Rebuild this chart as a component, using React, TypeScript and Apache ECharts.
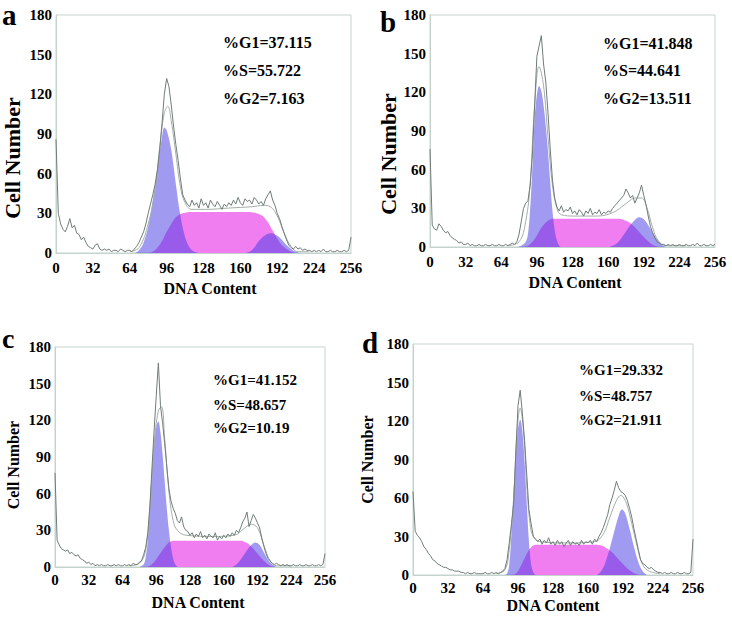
import React, { useEffect, useRef } from "react";
import * as echarts from "echarts";

// ---------- data ----------
const panelLetters = ["a", "b", "c", "d"];
const xTicks = [0, 32, 64, 96, 128, 160, 192, 224, 256];
const yTicks = [0, 30, 60, 90, 120, 150, 180];

const statsA = ["%G1=37.115", "%S=55.722", "%G2=7.163"];
const statsB = ["%G1=41.848", "%S=44.641", "%G2=13.511"];
const statsC = ["%G1=41.152", "%S=48.657", "%G2=10.19"];
const statsD = ["%G1=29.332", "%S=48.757", "%G2=21.911"];

// DNA channels of the raw histogram (every 2nd channel, 0..256)
const channels = Array.from({ length: 129 }, (_, i) => i * 2);

const rawA = [
  86, 30, 22, 18, 16, 20, 26, 19, 21, 15, 14, 10, 12, 8, 5, 4,
  3, 6, 7, 3, 2, 3, 2, 3, 1, 2, 2, 1, 3, 2, 1, 2,
  2, 1, 3, 5, 8, 12, 16, 22, 30, 37, 44, 52, 63, 78, 98, 120,
  132, 126, 112, 96, 82, 70, 56, 44, 40, 37, 35, 40, 36, 38, 34, 41,
  36, 38, 34, 40, 37, 35, 39, 36, 33, 37, 35, 38, 36, 40, 37, 42,
  38, 36, 41, 39, 40, 37, 42, 40, 37, 39, 36, 41, 44, 47, 40, 36,
  30, 26, 20, 15, 10, 6, 4, 3, 5, 3, 4, 2, 3, 2, 2, 1,
  2, 1, 2, 1, 3, 1, 1, 2, 1, 1, 2, 1, 1, 2, 1, 2, 12,
];
const rawB = [
  76, 17, 14, 13, 18, 16, 13, 11, 12, 9, 7, 6, 5, 3, 4, 2,
  2, 3, 1, 2, 1, 1, 2, 1, 1, 2, 1, 1, 2, 1, 1, 2,
  1, 1, 2, 1, 2, 3, 2, 4, 10, 20, 30, 34, 36, 48, 72, 110,
  148, 156, 164, 142, 128, 104, 76, 52, 38, 31, 28, 32, 27, 29, 28, 31,
  26, 28, 25, 29, 27, 24, 28, 26, 30, 25, 27, 26, 29, 25, 27, 26,
  28, 27, 30, 32, 34, 36, 38, 40, 45, 42, 38, 40, 34, 38, 42, 48,
  40, 33, 24, 16, 11, 7, 4, 3, 2, 2, 1, 2, 1, 2, 1, 1,
  2, 1, 1, 2, 1, 1, 2, 1, 3, 1, 1, 2, 1, 1, 2, 1, 2,
];
const rawC = [
  77, 22, 18, 15, 14, 13, 14, 11, 12, 10, 9, 10, 7, 6, 5, 3,
  4, 2, 3, 1, 2, 1, 2, 1, 1, 2, 1, 1, 2, 1, 2, 1,
  1, 2, 1, 2, 1, 3, 2, 2, 4, 5, 10, 16, 28, 50, 82, 112,
  140, 167, 132, 118, 101, 82, 64, 54, 48, 44, 38, 36, 41, 33, 30, 29,
  26, 28, 24, 27, 25, 29, 24, 26, 23, 27, 25, 24, 28, 22, 25, 23,
  26, 24, 27, 25, 28, 26, 30, 28, 32, 37, 40, 45, 33, 38, 43, 40,
  36, 32, 24, 17, 11, 7, 5, 3, 2, 3, 2, 1, 2, 1, 2, 1,
  1, 2, 1, 1, 2, 1, 1, 2, 1, 1, 2, 1, 1, 2, 1, 2, 11,
];
const rawD = [
  65, 34, 31, 29, 26, 22, 20, 17, 15, 12, 11, 9, 8, 7, 6, 6,
  5, 4, 4, 3, 3, 3, 2, 2, 1, 2, 1, 1, 2, 1, 1, 1,
  1, 2, 1, 1, 2, 1, 2, 1, 2, 3, 5, 12, 25, 40, 55, 95,
  132, 144, 126, 105, 78, 51, 40, 30, 28, 26, 28, 24, 27, 25, 29, 24,
  26, 23, 27, 24, 26, 22, 25, 27, 23, 26, 24, 25, 23, 27, 24, 26,
  25, 27, 24, 28, 26, 30, 33, 37, 42, 47, 55, 60, 66, 73, 68, 65,
  64, 62, 58, 52, 45, 36, 28, 20, 12, 9, 8, 6, 5, 6, 4, 3,
  2, 2, 1, 2, 1, 1, 2, 1, 1, 2, 1, 1, 2, 1, 1, 2, 28,
];

// fitted model components [DNA channel, cell number]
const g1A = [[64, 0], [68, 0], [72, 2], [76, 8], [80, 20], [84, 40], [88, 64], [92, 88], [94, 95], [96, 93], [100, 78], [104, 52], [108, 28], [112, 12], [116, 4], [120, 1], [124, 0]];
const sA = [[80, 0], [84, 1], [88, 4], [92, 9], [96, 16], [100, 22], [104, 27], [108, 29.5], [112, 30.5], [116, 31], [168, 31], [172, 30.5], [176, 29.5], [180, 27.5], [184, 23], [188, 17], [192, 11], [196, 6], [200, 3], [204, 1], [208, 0]];
const g2A = [[164, 0], [168, 1], [172, 4], [176, 9], [180, 12.5], [184, 14.5], [187, 15], [192, 13], [196, 10], [200, 6], [204, 3], [208, 1], [212, 0]];
const fitA = [[64, 1], [72, 4], [80, 22], [86, 48], [90, 80], [94, 106], [97, 111], [100, 100], [104, 75], [108, 50], [112, 38], [118, 33], [130, 33], [150, 34], [170, 35], [180, 36], [186, 35], [192, 28], [198, 15], [204, 5], [210, 1], [220, 1]];

const g1B = [[78, 0], [82, 1], [86, 4], [88, 10], [90, 30], [92, 62], [94, 100], [96, 118], [98, 125], [100, 121], [102, 110], [104, 94], [106, 74], [108, 50], [110, 28], [112, 13], [114, 5], [116, 1], [118, 0]];
const sB = [[84, 0], [88, 1], [92, 4], [96, 9], [100, 15], [104, 19], [108, 21.5], [112, 22], [170, 22], [174, 21], [178, 19.5], [182, 17], [186, 13.5], [190, 9.5], [194, 6], [198, 3], [202, 1], [206, 0]];
const g2B = [[160, 0], [164, 1], [168, 3], [172, 7], [176, 12], [180, 17], [184, 21], [188, 23], [192, 21.5], [196, 17], [200, 11], [204, 6], [208, 2], [212, 0]];
const fitB = [[70, 1], [80, 4], [86, 20], [90, 50], [94, 110], [98, 140], [102, 125], [106, 85], [110, 48], [114, 30], [118, 25], [130, 24], [150, 24], [165, 27], [175, 33], [185, 38], [190, 38], [195, 30], [200, 15], [205, 5], [212, 1], [230, 1]];

const g1C = [[80, 0], [84, 2], [86, 8], [88, 22], [90, 52], [92, 80], [94, 102], [96, 115], [98, 119], [100, 110], [102, 92], [104, 70], [106, 48], [108, 30], [110, 16], [112, 7], [114, 2], [116, 0]];
const sC = [[86, 0], [90, 1], [94, 4], [98, 9], [102, 14], [106, 18.5], [110, 21], [114, 21.5], [176, 21.5], [180, 20.5], [184, 18.5], [188, 15], [192, 11], [196, 7], [200, 3.5], [204, 1], [208, 0]];
const g2C = [[168, 0], [172, 2], [176, 6], [180, 11], [184, 16], [188, 19.5], [190, 20], [194, 18], [198, 12], [202, 6], [206, 2], [210, 0]];
const fitC = [[70, 1], [80, 3], [86, 14], [90, 50], [94, 100], [98, 128], [101, 131], [104, 105], [108, 62], [112, 38], [116, 30], [124, 26], [150, 25], [170, 26], [180, 32], [186, 35], [192, 32], [198, 18], [204, 5], [210, 1], [224, 1]];

const g1D = [[84, 0], [86, 1], [88, 8], [90, 32], [92, 66], [94, 95], [96, 114], [98, 121], [100, 112], [102, 88], [104, 56], [106, 26], [108, 8], [110, 2], [112, 0]];
const sD = [[90, 0], [94, 1], [98, 6], [102, 13], [106, 19.5], [110, 23], [114, 23.5], [168, 23.5], [172, 23], [176, 21.5], [180, 19], [184, 16], [188, 12], [192, 8.5], [196, 5], [200, 2.5], [204, 0.8], [208, 0]];
const g2D = [[168, 0], [172, 3], [176, 10], [180, 21], [184, 34], [188, 46], [191, 51], [194, 48], [198, 36], [202, 22], [206, 10], [210, 3], [214, 0]];
const fitD = [[76, 1], [84, 4], [88, 20], [92, 60], [95, 110], [98, 130], [101, 112], [104, 70], [107, 40], [110, 30], [116, 26], [140, 25], [166, 26], [174, 32], [180, 45], [186, 58], [190, 62], [195, 56], [200, 40], [205, 22], [210, 8], [216, 3], [226, 1]];

// ---------- layout ----------
const FONT = "'Liberation Serif', 'Times New Roman', serif";
const FRAME = "#c5d3cd";
const G_COLOR = "rgba(66,56,226,0.5)";
const S_COLOR = "#f07ef0";

const panels = [
  { raw: rawA, g1: g1A, s: sA, g2: g2A, fit: fitA, stats: statsA,
    grid: { left: 54, top: 15, width: 297, height: 238 },
    xNameGap: 27, xNamePad: [0, 0, 0, 13], xLabelMargin: 7,
    yNameGap: 33, yNameSize: 22, yNamePad: [0, 48, 0, 0],
    letter: { x: 2, y: 15, size: 29 }, statX: 223, statY: [42, 70, 98], statSize: 16 },
  { raw: rawB, g1: g1B, s: sB, g2: g2B, fit: fitB, stats: statsB,
    grid: { left: 430, top: 15, width: 285, height: 232 },
    xNameGap: 27, xNamePad: [0, 0, 0, 5], xLabelMargin: 7,
    yNameGap: 27, yNameSize: 22, yNamePad: [0, 46, 0, 0],
    letter: { x: 380, y: 22, size: 29 }, statX: 603, statY: [43, 70, 98], statSize: 16 },
  { raw: rawC, g1: g1C, s: sC, g2: g2C, fit: fitC, stats: statsC,
    grid: { left: 55, top: 347, width: 270, height: 220 },
    xNameGap: 27, xNamePad: [0, 0, 0, 16], xLabelMargin: 5,
    yNameGap: 34, yNameSize: 16, yNamePad: [0, 16, 0, 0],
    letter: { x: 2, y: 338, size: 28 }, statX: 213, statY: [380, 405, 428], statSize: 15 },
  { raw: rawD, g1: g1D, s: sD, g2: g2D, fit: fitD, stats: statsD,
    grid: { left: 413, top: 344, width: 280, height: 231 },
    xNameGap: 22, xNamePad: [0, 0, 0, 0], xLabelMargin: 5,
    yNameGap: 38, yNameSize: 16, yNamePad: [0, 0, 0, 0],
    letter: { x: 362, y: 343, size: 29 }, statX: 579, statY: [370, 396, 420], statSize: 15 },
];

const labelStyle = { fontFamily: FONT, fontWeight: "bold" as const, fontSize: 15, color: "#000" };

export default function App() {
  const ref = useRef<HTMLDivElement>(null);

  useEffect(() => {
    if (!ref.current) return;
    const chart = echarts.init(ref.current, undefined, { renderer: "svg" });

    const grids: any[] = [];
    const xAxes: any[] = [];
    const yAxes: any[] = [];
    const series: any[] = [];
    const graphics: any[] = [];

    panels.forEach((p, i) => {
      grids.push({ ...p.grid, show: true, borderColor: FRAME, borderWidth: 1, backgroundColor: "#fff" });
      xAxes.push({
        type: "value", gridIndex: i, min: xTicks[0], max: xTicks[xTicks.length - 1], interval: 32,
        name: "DNA Content", nameLocation: "middle", nameGap: p.xNameGap,
        nameTextStyle: { fontFamily: FONT, fontWeight: "bold", fontSize: 16, color: "#000", padding: p.xNamePad },
        axisLine: { show: true, lineStyle: { color: FRAME } },
        axisTick: { show: false },
        splitLine: { show: false },
        axisLabel: { ...labelStyle, margin: p.xLabelMargin },
      });
      yAxes.push({
        type: "value", gridIndex: i, min: yTicks[0], max: yTicks[yTicks.length - 1], interval: 30,
        name: "Cell Number", nameLocation: "middle", nameGap: p.yNameGap,
        nameTextStyle: { fontFamily: FONT, fontWeight: "bold", fontSize: p.yNameSize, color: "#000", padding: p.yNamePad },
        axisLine: { show: true, lineStyle: { color: FRAME } },
        axisTick: { show: false },
        splitLine: { show: false },
        axisLabel: { ...labelStyle, margin: 4 },
      });
      const common = { xAxisIndex: i, yAxisIndex: i, symbol: "none", silent: true };
      series.push({ ...common, type: "line", name: "S", data: p.s, smooth: 0.35,
        lineStyle: { opacity: 0 }, areaStyle: { color: S_COLOR, opacity: 1 }, z: 2 });
      series.push({ ...common, type: "line", name: "G1", data: p.g1, smooth: 0.35,
        lineStyle: { opacity: 0 }, areaStyle: { color: G_COLOR, opacity: 1 }, z: 3 });
      series.push({ ...common, type: "line", name: "G2", data: p.g2, smooth: 0.35,
        lineStyle: { opacity: 0 }, areaStyle: { color: G_COLOR, opacity: 1 }, z: 3 });
      series.push({ ...common, type: "line", name: "Fit", data: p.fit, smooth: 0.4,
        lineStyle: { color: "#a3aeaa", width: 1 }, z: 4 });
      series.push({ ...common, type: "line", name: "Raw", data: p.raw.map((v, k) => [channels[k], v]),
        lineStyle: { color: "#6f7d77", width: 1 }, z: 5 });

      graphics.push({
        type: "text", x: p.letter.x, y: p.letter.y,
        style: { text: panelLetters[i], font: `bold ${p.letter.size}px ${FONT}`, fill: "#000", verticalAlign: "middle" },
      });
      p.stats.forEach((t, k) => {
        graphics.push({
          type: "text", x: p.statX, y: p.statY[k],
          style: { text: t, font: `bold ${p.statSize}px ${FONT}`, fill: "#000", verticalAlign: "middle" },
        });
      });
    });

    chart.setOption({
      animation: false,
      backgroundColor: "#fff",
      grid: grids,
      xAxis: xAxes,
      yAxis: yAxes,
      series,
      graphic: graphics,
    });
    return () => chart.dispose();
  }, []);

  return <div ref={ref} style={{ position: "absolute", left: 0, top: 0, width: 732, height: 617 }} />;
}
